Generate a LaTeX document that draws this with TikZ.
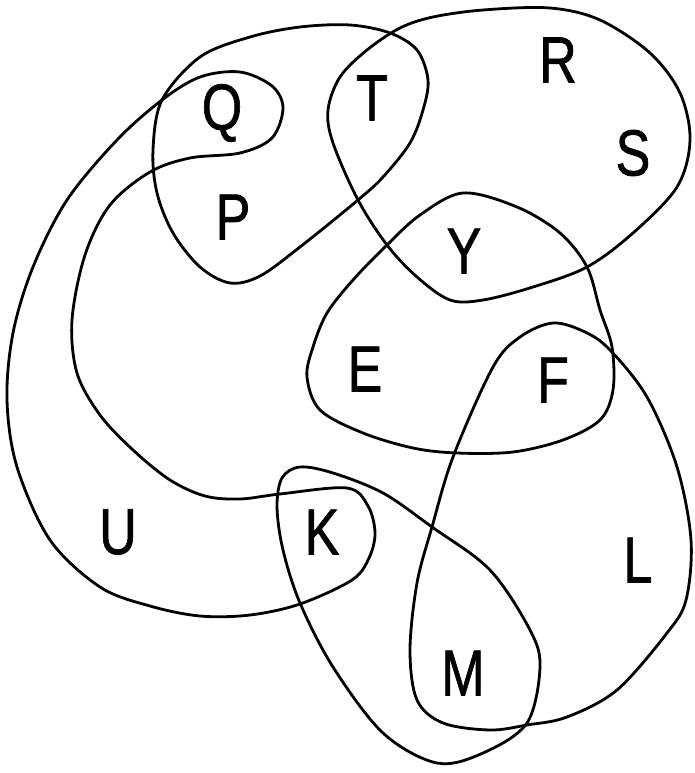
\documentclass[tikz,border=0pt]{standalone}
\usepackage{graphicx}
\usepackage{fontspec}
\setsansfont[FakeBold=1.2]{Liberation Sans}

\newcommand{\vlabel}[1]{\scalebox{0.8}[1]{#1}}

\begin{document}
\begin{tikzpicture}[
    x=1pt, y=-1pt,
    vertex/.style={font=\sffamily\fontsize{65}{65}\selectfont, inner sep=0pt},
    edge/.style={draw, line width=2.8pt, line join=round}
  ]

  \useasboundingbox (0,0) rectangle (694,773);

  % ========= vertices =========
  \node[vertex] (q) at (222,113) {\vlabel{Q}};
  \node[vertex] (p) at (233,217) {\vlabel{P}};
  \node[vertex] (t) at (372,98)  {\vlabel{T}};
  \node[vertex] (r) at (558,60)  {\vlabel{R}};
  \node[vertex] (s) at (633,153) {\vlabel{S}};
  \node[vertex] (y) at (464,251) {\vlabel{Y}};
  \node[vertex] (e) at (365,369) {\vlabel{E}};
  \node[vertex] (f) at (553,380) {\vlabel{F}};
  \node[vertex] (u) at (118,532) {\vlabel{U}};
  \node[vertex] (k) at (322,532) {\vlabel{K}};
  \node[vertex] (l) at (638,560) {\vlabel{L}};
  \node[vertex] (m) at (463,673) {\vlabel{M}};

  % ========= hyperedges =========
  % U, K, Q (the big hook)
  \draw[edge] plot[smooth cycle, tension=0.55] coordinates {
    (162,100) (200,77) (240,72) (272,86) (283,108) (272,138) (240,153)
    (190,158) (150,172) (110,205) (85,255) (72,320) (77,373) (100,415)
    (133,450) (170,480) (205,496) (240,499) (280,494) (347,488) (368,506)
    (375,533) (369,558) (352,580) (300,604) (250,615) (200,616) (150,606)
    (100,587) (50,540) (17,467) (7,400) (13,333) (33,267) (67,200) (117,140)};

  % P, Q, T
  \draw[edge] plot[smooth cycle, tension=0.55] coordinates {
    (162,100) (200,57) (250,37) (300,27) (350,25) (390,33) (417,50)
    (428,80) (423,110) (410,143) (383,177) (358,200) (300,247) (260,276)
    (230,283) (200,267) (173,233) (157,193) (153,150)};

  % T, R, S, Y
  \draw[edge] plot[smooth cycle, tension=0.55] coordinates {
    (400,28) (433,17) (483,10) (550,8) (600,20) (650,53) (680,93)
    (690,140) (677,187) (633,233) (587,267) (533,287) (483,300) (450,300)
    (417,277) (387,245) (358,200) (333,143) (328,110) (340,77) (367,50)};

  % Y, E, F
  \draw[edge] plot[smooth cycle, tension=0.55] coordinates {
    (463,193) (517,207) (560,233) (587,267) (600,310) (612,347) (613,390)
    (600,420) (563,440) (513,452) (457,453) (413,448) (363,433) (320,410)
    (307,377) (313,347) (327,313) (353,280) (387,245) (420,215)};

  % F, L, M
  \draw[edge] plot[smooth cycle, tension=0.55] coordinates {
    (553,323) (585,332) (610,350) (647,397) (677,467) (691,540) (686,600)
    (667,633) (617,690) (567,717) (527,725) (490,730) (443,723) (417,700)
    (410,650) (417,583) (432,527) (453,457) (493,367) (520,337)};

  % K, M
  \draw[edge] plot[smooth cycle, tension=0.55] coordinates {
    (300,467) (333,473) (383,493) (432,527) (490,570) (530,630) (540,667)
    (527,723) (483,753) (437,763) (383,733) (333,667) (300,603) (283,550)
    (277,507) (282,478)};

\end{tikzpicture}
\end{document}
